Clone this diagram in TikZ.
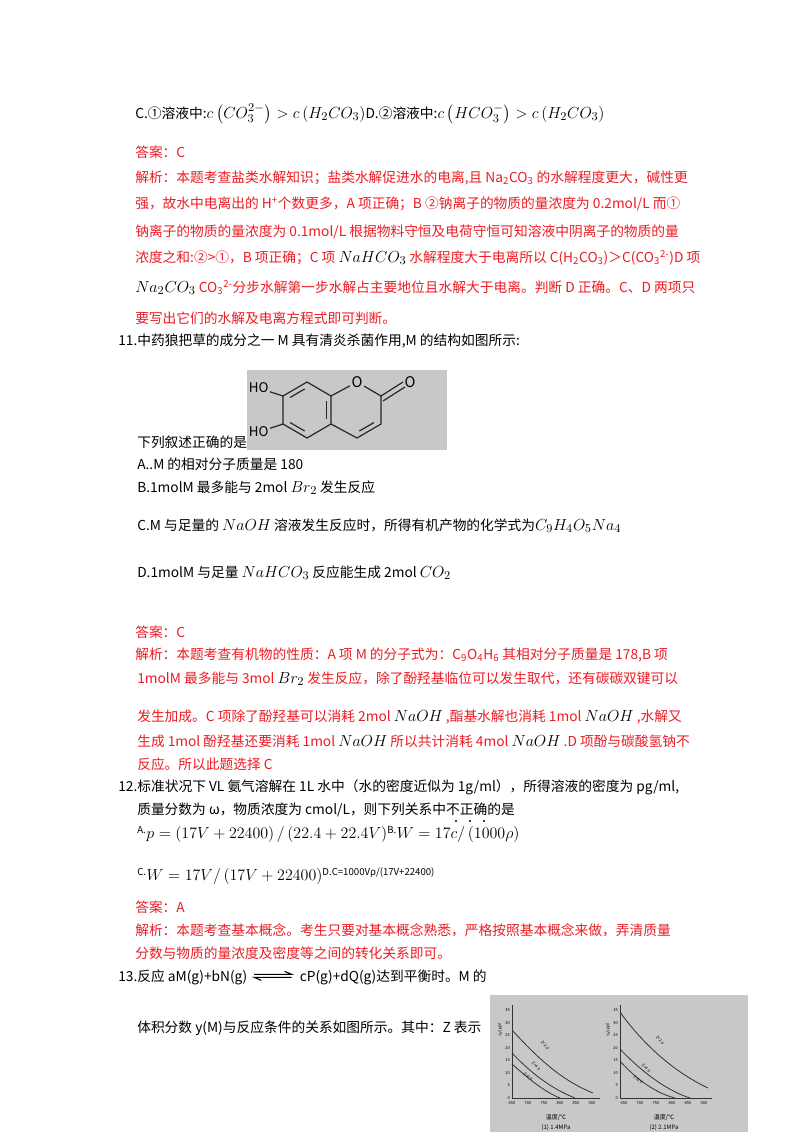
\documentclass[tikz,border=0pt]{standalone}
\usepackage{fontspec}
\usepackage{amsmath}
\setmainfont{Noto Sans CJK SC}
\usetikzlibrary{positioning,calc}
\definecolor{ansred}{RGB}{236,28,36}
\definecolor{scan}{RGB}{200,200,200}
\tikzset{
  txt/.style={anchor=base west,inner sep=0pt,font=\fontsize{10.3}{12}\selectfont},
  ans/.style={txt,text=ansred},
  tick/.style={inner sep=0pt,font=\fontsize{3}{3}\selectfont},
  bond/.style={line width=0.9pt,black!85},
  inb/.style={bond,shorten <=2pt,shorten >=2pt}
}
\newcommand{\fml}[1]{{\fontsize{13}{14}\selectfont$#1$}}
\begin{document}
\begin{tikzpicture}[x=0.75pt,y=-0.75pt]
\useasboundingbox[fill=white] (0,0) rectangle (800,1132);
% question 10 end
\node[txt] (qc) at (135,118) {C.①溶液中:\fml{c\left(CO_3^{2-}\right)>c\left(H_2CO_3\right)}D.②溶液中:\fml{c\left(HCO_3^{-}\right)>c\left(H_2CO_3\right)}};
\node[ans] (a10) at (135,157) {答案：C};
\node[ans] (e10a) at (135,182) {解析：本题考查盐类水解知识；盐类水解促进水的电离,且 Na\textsubscript{2}CO\textsubscript{3} 的水解程度更大，碱性更};
\node[ans] (e10b) at (135,208) {强，故水中电离出的 H\textsuperscript{+}个数更多，A 项正确；B ②钠离子的物质的量浓度为 0.2mol/L 而①};
\node[ans] (e10c) at (135,236) {钠离子的物质的量浓度为 0.1mol/L 根据物料守恒及电荷守恒可知溶液中阴离子的物质的量};
\node[ans] (e10d) at (135,262) {浓度之和:②>①，B 项正确；C 项 \textcolor{black}{\fml{NaHCO_3}} 水解程度大于电离所以 C(H\textsubscript{2}CO\textsubscript{3})＞C(CO\textsubscript{3}\textsuperscript{2-})D 项};
\node[ans] (e10e) at (135,292) {\textcolor{black}{\fml{Na_2CO_3}} CO\textsubscript{3}\textsuperscript{2-}分步水解第一步水解占主要地位且水解大于电离。判断 D 正确。C、D 两项只};
\node[ans] (e10f) at (135,323) {要写出它们的水解及电离方程式即可判断。};
% question 11
\node[txt] (q11) at (118,345) {11.中药狼把草的成分之一 M 具有清炎杀菌作用,M 的结构如图所示:};
\fill[scan] (247,370) rectangle (447,450);
\coordinate (ca) at (307,410); \coordinate (cb) at (357,410);
\coordinate (c1) at (307,382); \coordinate (c2) at (331,396);
\coordinate (c3) at (331,424); \coordinate (c4) at (307,438);
\coordinate (c5) at (283,424); \coordinate (c6) at (283,396);
\coordinate (c8) at (381,396); \coordinate (c9) at (381,424);
\coordinate (c10) at (357,438);
\node[inner sep=1pt,font=\fontsize{11}{11}\selectfont] (ro) at (357,382) {O};
\node[inner sep=1pt,font=\fontsize{11}{11}\selectfont,anchor=west] (co) at (403,382) {O};
\node[inner sep=1pt,font=\fontsize{10}{10}\selectfont,anchor=east] (ho1) at (270,388) {HO};
\node[inner sep=1pt,font=\fontsize{10}{10}\selectfont,anchor=east] (ho2) at (270,432) {HO};
\draw[bond] (c1) -- (c2) -- (c3) -- (c4) -- (c5) -- (c6) -- cycle;
\draw[bond] (c2) -- (ro) -- (c8) -- (c9) -- (c10) -- (c3);
\draw[inb] ($(c2)!0.2!(ca)$) -- ($(c3)!0.2!(ca)$);
\draw[inb] ($(c4)!0.2!(ca)$) -- ($(c5)!0.2!(ca)$);
\draw[inb] ($(c6)!0.2!(ca)$) -- ($(c1)!0.2!(ca)$);
\draw[inb] ($(c9)!0.2!(cb)$) -- ($(c10)!0.2!(cb)$);
\draw[bond] (c8) -- (co.west);
\draw[bond] ($(c8)+(2,5)$) -- ($(co.west)+(2,5)$);
\draw[bond] (c6) -- (ho1); \draw[bond] (c5) -- (ho2);
\node[txt] (q11s) at (137,447) {下列叙述正确的是};
\node[txt] (q11a) at (137,469) {A..M 的相对分子质量是 180};
\node[txt] (q11b) at (137,492) {B.1molM 最多能与 2mol \fml{Br_2} 发生反应};
\node[txt] (q11c) at (137,530) {C.M 与足量的 \fml{NaOH} 溶液发生反应时，所得有机产物的化学式为\fml{C_9H_4O_5Na_4}};
\node[txt] (q11d) at (137,577) {D.1molM 与足量 \fml{NaHCO_3} 反应能生成 2mol \fml{CO_2}};
\node[ans] (a11) at (135,637) {答案：C};
\node[ans] (e11a) at (135,659) {解析：本题考查有机物的性质：A 项 M 的分子式为：C\textsubscript{9}O\textsubscript{4}H\textsubscript{6} 其相对分子质量是 178,B 项};
\node[ans] (e11b) at (137,683) {1molM 最多能与 3mol \textcolor{black}{\fml{Br_2}} 发生反应，除了酚羟基临位可以发生取代，还有碳碳双键可以};
\node[ans] (e11c) at (137,721) {发生加成。C 项除了酚羟基可以消耗 2mol \textcolor{black}{\fml{NaOH}} ,酯基水解也消耗 1mol \textcolor{black}{\fml{NaOH}} ,水解又};
\node[ans] (e11d) at (137,746) {生成 1mol 酚羟基还要消耗 1mol \textcolor{black}{\fml{NaOH}} 所以共计消耗 4mol \textcolor{black}{\fml{NaOH}} .D 项酚与碳酸氢钠不};
\node[ans] (e11e) at (137,769) {反应。所以此题选择 C};
% question 12
\node[txt] (q12) at (118,791) {12.标准状况下 VL 氨气溶解在 1L 水中（水的密度近似为 1g/ml），所得溶液的密度为 pg/ml,};
\node[txt] (q12b) at (137,814) {质量分数为 ω，物质浓度为 cmol/L，则下列关系中不正确的是};
\foreach \dx in {456,470,484} \fill (\dx,821) circle (0.9pt);
\node[txt] (q12a) at (137,838) {\textsuperscript{A.}\fml{p=\left(17V+22400\right)/\left(22.4+22.4V\right)}\textsuperscript{B.}\fml{W=17c/\left(1000\rho\right)}};
\node[txt] (q12c) at (137,880) {\textsuperscript{C.}\fml{W=17V/\left(17V+22400\right)}\textsuperscript{D.C=1000Vρ/(17V+22400)}};
\node[ans] (a12) at (135,912) {答案：A};
\node[ans] (e12a) at (135,935) {解析：本题考查基本概念。考生只要对基本概念熟悉，严格按照基本概念来做，弄清质量};
\node[ans] (e12b) at (135,958) {分数与物质的量浓度及密度等之间的转化关系即可。};
% question 13
\node[txt] (q13a) at (118,981) {13.反应 aM(g)+bN(g)};
\coordinate[right=5pt of q13a.base east,yshift=5pt] (hl);
\coordinate[right=28pt of hl] (hr);
\draw[line width=0.8pt] (hl) -- (hr) -- ++(-7,-3);
\draw[line width=0.8pt] ($(hr)+(0,3)$) -- ($(hl)+(0,3)$) -- ++(7,3);
\node[txt,right=6pt of hr,yshift=-5pt,anchor=base west] (q13c) {cP(g)+dQ(g)达到平衡时。M 的};
\node[txt] (q13b) at (137,1032) {体积分数 y(M)与反应条件的关系如图所示。其中：Z 表示};
% graph scan
\fill[scan] (490,995) rectangle (748,1132);
\begin{scope}[black!80,line width=0.6pt]
\coordinate (o1) at (512,1098); \coordinate (o2) at (620,1098);
\draw (512,1005) -- (o1) -- (600,1098);
\draw (620,1005) -- (o2) -- (712,1098);
\draw (512,1030) .. controls (535,1055) and (560,1080) .. (593,1093);
\draw (512,1053) .. controls (530,1072) and (550,1088) .. (575,1098);
\draw (512,1064) .. controls (530,1080) and (545,1092) .. (560,1098);
\draw (620,1012) .. controls (640,1040) and (670,1070) .. (708,1088);
\draw (620,1049) .. controls (640,1070) and (665,1090) .. (690,1098);
\draw (620,1061) .. controls (635,1078) and (655,1093) .. (675,1098);
\end{scope}
\foreach \i/\v in {0/650,1/700,2/750,3/800,4/850,5/900} {
  \node[tick] (xa\i) at (512+\i*16,1103) {\v};
  \node[tick] (xb\i) at (624+\i*16,1103) {\v};}
\foreach \i/\v in {0/0,1/5,2/10,3/15,4/20,5/25,6/30,7/35} {
  \node[tick,anchor=east] (ya\i) at (510,1098-\i*12.5) {\v};
  \node[tick,anchor=east] (yb\i) at (618,1098-\i*12.5) {\v};}
\node[tick,rotate=-90] (yla) at (500,1030) {y(M)/\%};
\node[tick,rotate=-90] (ylb) at (608,1030) {y(M)/\%};
\node[tick,rotate=-50] (za1) at (545,1045) {Z=2.0};
\node[tick,rotate=-45] (za2) at (536,1066) {Z=4.0};
\node[tick,rotate=-40] (za3) at (528,1077) {Z=6.0};
\node[tick,rotate=-50] (zb1) at (660,1040) {Z=2.0};
\node[tick,rotate=-45] (zb2) at (646,1068) {Z=4.0};
\node[tick,rotate=-40] (zb3) at (638,1080) {Z=6.0};
\node[inner sep=0pt,font=\fontsize{4.5}{5}\selectfont] (tla) at (556,1117) {温度/℃};
\node[inner sep=0pt,font=\fontsize{4.5}{5}\selectfont] (tlb) at (664,1117) {温度/℃};
\node[inner sep=0pt,font=\fontsize{4.5}{5}\selectfont] (pla) at (556,1128) {(1) 1.4MPa};
\node[inner sep=0pt,font=\fontsize{4.5}{5}\selectfont] (plb) at (664,1128) {(2) 2.1MPa};
\end{tikzpicture}
\end{document}
